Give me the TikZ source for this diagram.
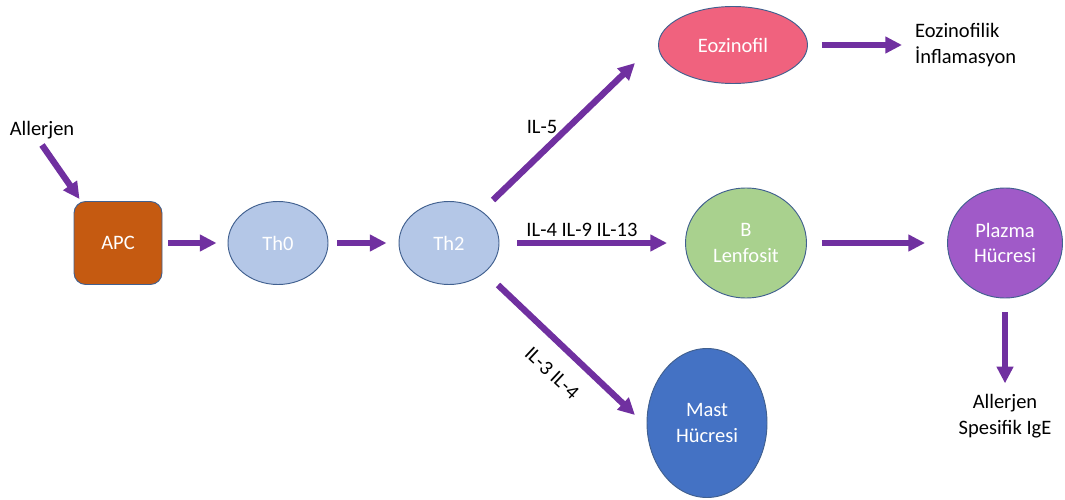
\documentclass[tikz,border=0pt]{standalone}
\usepackage{fontspec}
\setmainfont{Carlito}
\usetikzlibrary{arrows.meta,calc,shapes.geometric}

\definecolor{arrowpurple}{HTML}{7030A0}
\definecolor{cellborder}{HTML}{41608F}
\definecolor{apcorange}{HTML}{C55A11}
\definecolor{thblue}{HTML}{B4C7E7}
\definecolor{eozpink}{HTML}{F0627E}
\definecolor{bgreen}{HTML}{A9D18E}
\definecolor{plazmapurple}{HTML}{A05AC8}
\definecolor{mastblue}{HTML}{4472C4}

\begin{document}
\begin{tikzpicture}[
   every node/.style = {font=\fontsize{17.5}{22}\selectfont, align=center, inner sep=0pt},
   cell/.style = {ellipse, draw=cellborder, line width=0.8pt, text=white},
   arr/.style = {draw=arrowpurple, line width=1.9mm, -{Triangle[length=5mm, width=4.8mm]}},
]
   \useasboundingbox (0,0) rectangle (31.95,14.97);
   % cells
   \node (allerjen) at (1.26,11.07) {Allerjen};
   \node [draw=cellborder, line width=0.8pt, fill=apcorange, text=white,
      rounded corners=3.5mm, minimum width=2.64cm, minimum height=2.49cm]
      (apc) at (3.54,7.68) {APC};
   \node [cell, fill=thblue, minimum width=3cm, minimum height=2.49cm] (th0) at (8.34,7.68) {Th0};
   \node [cell, fill=thblue, minimum width=3cm, minimum height=2.49cm] (th2) at (13.47,7.68) {Th2};
   \node [cell, fill=eozpink, minimum width=4.47cm, minimum height=2.31cm] (eoz) at (21.99,13.62) {Eozinofil};
   \node [anchor=west, align=left] (inflam) at (27.45,13.62) {Eozinofilik\\İnflamasyon};
   \node [cell, fill=bgreen, minimum width=3.63cm, minimum height=3.3cm] (blen) at (22.38,7.68) {B\\Lenfosit};
   \node [cell, fill=plazmapurple, minimum width=3.45cm, minimum height=3.3cm] (plazma) at (30.15,7.68) {Plazma\\Hücresi};
   \node (ige) at (30.15,2.49) {Allerjen\\Spesifik IgE};
   \node [cell, fill=mastblue, minimum width=3.6cm, minimum height=4.47cm] (mast) at (21.21,2.28) {Mast\\Hücresi};
   % cytokine labels
   \node (il5) at (16.26,11.16) {IL-5};
   \node (il4) at (17.46,8.07) {IL-4 IL-9 IL-13};
   \node [rotate=-43] (il3) at (16.56,3.78) {IL-3 IL-4};
   % arrows
   \draw [arr] ($(allerjen)+(0,-0.45)$) -- ($(apc.north west)+(0.18,0.06)$);
   \draw [arr, shorten <=1.8mm, shorten >=3.3mm] (apc) -- (th0);
   \draw [arr, shorten <=2.7mm, shorten >=3.6mm] (th0) -- (th2);
   \draw [arr] ($(th2)+(1.32,1.29)$) -- ($(eoz)+(-2.94,-0.54)$);
   \draw [arr, shorten <=5.4mm, shorten >=5.4mm] (th2) -- (blen);
   \draw [arr] ($(th2)+(1.47,-1.26)$) -- ($(mast)+(-2.16,0.24)$);
   \draw [arr, shorten <=4.2mm, shorten >=3.9mm] (eoz) -- (inflam);
   \draw [arr, shorten <=4.5mm, shorten >=6.6mm] (blen) -- (plazma);
   \draw [arr, shorten <=4.2mm, shorten >=3.2mm] (plazma) -- (ige);
\end{tikzpicture}
\end{document}
